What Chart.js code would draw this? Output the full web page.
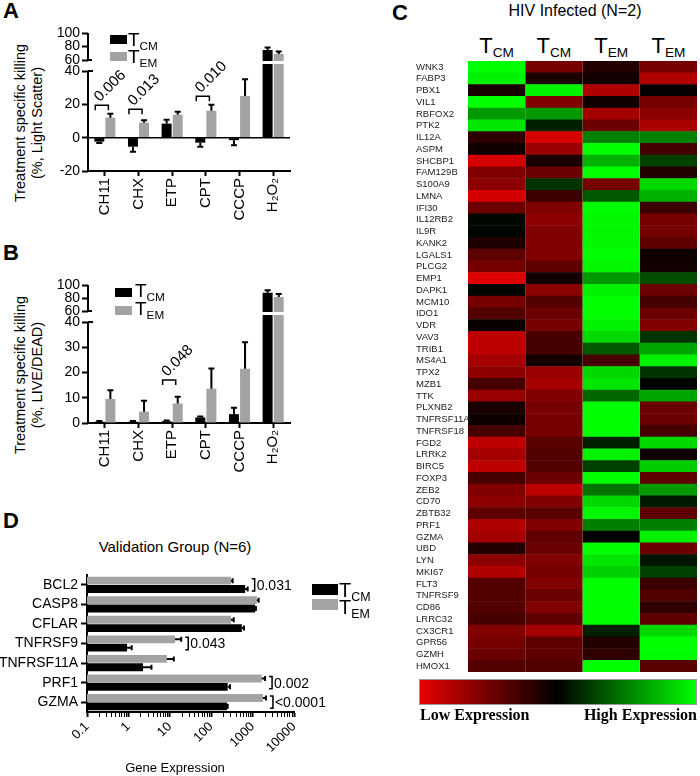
<!DOCTYPE html>
<html>
<head>
<meta charset="utf-8">
<title>Figure</title>
<script src="https://cdn.jsdelivr.net/npm/chart.js@4.4.1/dist/chart.umd.min.js"></script>
<style>
  body { margin: 0; width: 700px; height: 776px; position: relative; overflow: hidden; background: #fff;
         font-family: "Liberation Sans", Arial, sans-serif; color: #000; }
  canvas { position: absolute; }
  .txt { position: absolute; white-space: nowrap; line-height: 1; }
  .letra { font-size: 22px; font-weight: bold; }
  .ytit { position: absolute; white-space: nowrap; font-size: 14.5px; line-height: 17px; text-align: center;
          transform: translate(-50%, -50%) rotate(-90deg); }
  .box { position: absolute; }
  .txt sub { font-size: 0.62em; vertical-align: -0.3em; line-height: 0; }
  .center { transform: translateX(-50%); }
  .colorbar { position: absolute; left: 419px; top: 679px; width: 276px; height: 24px; border: 1px solid #999;
              background: linear-gradient(to right, #e60000, #000 50%, #00ff00); }
  .expr { position: absolute; top: 707px; font: bold 16px "Liberation Serif", "Times New Roman", serif; line-height: 1; white-space: nowrap; }
</style>
</head>
<body>

<!-- panel A -->
<div class="txt letra" style="left:3px; top:0px;">A</div>
<div class="ytit" style="left:29px; top:123px;">Treatment specific killing<br>(%, Light Scatter)</div>
<canvas id="grafico-a" width="300" height="240" style="left:0; top:0;"></canvas>
<div class="box" style="left:110px; top:35px; width:17px; height:9px; background:#000;"></div>
<div class="box" style="left:110px; top:52px; width:17px; height:9px; background:#a3a3a3;"></div>
<div class="txt" style="left:128px; top:30px; font-size:19px;">T<sub>CM</sub></div>
<div class="txt" style="left:128px; top:47px; font-size:19px;">T<sub>EM</sub></div>

<!-- panel B -->
<div class="txt letra" style="left:3px; top:242px;">B</div>
<div class="ytit" style="left:29px; top:375px;">Treatment specific killing<br>(%, LIVE/DEAD)</div>
<canvas id="grafico-b" width="300" height="240" style="left:0; top:250px;"></canvas>
<div class="box" style="left:115px; top:288px; width:17px; height:9px; background:#000;"></div>
<div class="box" style="left:115px; top:306px; width:17px; height:9px; background:#a3a3a3;"></div>
<div class="txt" style="left:135px; top:281px; font-size:19px;">T<sub>CM</sub></div>
<div class="txt" style="left:135px; top:299px; font-size:19px;">T<sub>EM</sub></div>

<!-- panel C -->
<div class="txt letra" style="left:392px; top:2px;">C</div>
<div class="txt center" style="left:575px; top:3px; font-size:16px;">HIV Infected (N=2)</div>
<div id="cabecalhos"></div>
<canvas id="grafico-c" width="286" height="625" style="left:414px; top:55px;"></canvas>
<div class="colorbar"></div>
<div class="expr" style="left:420px;">Low Expression</div>
<div class="expr" style="right:3px;">High Expression</div>

<!-- panel D -->
<div class="txt letra" style="left:3px; top:510px;">D</div>
<div class="txt center" style="left:175px; top:539px; font-size:15px;">Validation Group (N=6)</div>
<canvas id="grafico-d" width="360" height="246" style="left:0; top:530px;"></canvas>
<div class="txt center" style="left:175px; top:761px; font-size:13px;">Gene Expression</div>
<div class="box" style="left:312px; top:584px; width:26px; height:11px; background:#000;"></div>
<div class="box" style="left:312px; top:599px; width:26px; height:11px; background:#a3a3a3;"></div>
<div class="txt" style="left:339px; top:580px; font-size:20px;">T<sub>CM</sub></div>
<div class="txt" style="left:339px; top:597px; font-size:20px;">T<sub>EM</sub></div>

<script>
Chart.defaults.font.family = '"Liberation Sans", Arial, sans-serif';
Chart.defaults.color = '#000';

// A & B: treatments
const treatments = ['CH11', 'CHX', 'ETP', 'CPT', 'CCCP', 'H₂O₂'];

// A: light scatter (%)
const lsTcm = [-2.4, -5.4, 8.4, -3, -1.5, 75];
const lsTcmErr = [0.8, 3, 2.4, 2.5, 3, 3.5];
const lsTem = [12, 9, 13.8, 16.2, 25, 69];
const lsTemErr = [2.4, 1.4, 1.8, 3.6, 10, 3.5];
const lsP = ['0.006', '0.013', null, '0.010', null, null];
const lsTicks = [100, 80, 60, 40, 20, 0, -20];

// B: LIVE/DEAD (%)
const ldTcm = [0.5, 0.5, 0.7, 2.2, 3.5, 88];
const ldTcmErr = [0.3, 0.3, 0.3, 0.4, 2.5, 4];
const ldTem = [9.5, 4.5, 7.7, 13.6, 21.5, 81.5];
const ldTemErr = [3.5, 4.3, 2.7, 8, 10.5, 4.5];
const ldP = [null, null, '0.048', null, null, null];
const ldTicks = [100, 80, 60, 40, 30, 20, 10, 0];

// C: heatmap, HIV infected
const heatHeaders = ['CM', 'CM', 'EM', 'EM'];
const genes = ['WNK3', 'FABP3', 'PBX1', 'VIL1', 'RBFOX2', 'PTK2', 'IL12A', 'ASPM', 'SHCBP1', 'FAM129B',
  'S100A9', 'LMNA', 'IFI30', 'IL12RB2', 'IL9R', 'KANK2', 'LGALS1', 'PLCG2', 'EMP1', 'DAPK1',
  'MCM10', 'IDO1', 'VDR', 'VAV3', 'TRIB1', 'MS4A1', 'TPX2', 'MZB1', 'TTK', 'PLXNB2',
  'TNFRSF11A', 'TNFRSF18', 'FGD2', 'LRRK2', 'BIRC5', 'FOXP3', 'ZEB2', 'CD70', 'ZBTB32', 'PRF1',
  'GZMA', 'UBD', 'LYN', 'MKI67', 'FLT3', 'TNFRSF9', 'CD86', 'LRRC32', 'CX3CR1', 'GPR56',
  'GZMH', 'HMOX1'];
const heatCm1 = [1, .95, -.1, 1, .6, .9, -.2, -.07, -.9, -.55,
  -.6, -.9, -.45, .03, .02, -.12, -.4, -.5, -.95, .02,
  -.5, -.35, -.04, -.8, -.8, -.7, -.6, -.3, -.65, -.1,
  -.06, -.3, -.8, -.7, -.8, -.3, -.55, -.6, -.4, -.75,
  -.7, -.15, -.6, -.75, -.35, -.35, -.35, -.3, -.55, -.5,
  -.45, -.35];
const heatCm2 = [-.5, -.12, .95, -.55, .6, .12, -.9, -.65, -.1, -.45,
  .2, -.25, -.55, -.6, -.55, -.55, -.55, -.4, -.08, -.6,
  -.35, -.45, -.5, -.3, -.3, -.08, -.65, -.7, -.55, -.5,
  -.5, -.5, -.38, -.35, -.35, -.45, -.8, -.55, -.38, -.55,
  -.4, -.45, -.55, -.5, -.55, -.45, -.55, -.4, -.7, -.4,
  -.4, -.35];
const heatEm1 = [-.15, -.08, -.75, -.07, -.7, -.45, .5, 1, .7, 1,
  -.5, .35, 1, .97, .97, .97, 1, .97, .6, .95,
  1, 1, .95, .85, .35, -.3, .85, .9, .4, 1,
  1, 1, .12, .95, .25, 1, .45, .85, .97, .5,
  0, 1, .9, .82, 1, 1, 1, 1, .12, -.15,
  -.2, 1];
const heatEm2 = [-.5, -.75, -.03, -.5, -.6, -.72, .5, -.3, .25, -.15,
  .85, .7, -.25, -.5, -.5, -.4, -.06, -.08, .3, -.45,
  -.3, -.45, -.55, .2, .65, .95, .2, .02, .65, -.45,
  -.45, -.3, .85, -.06, .8, -.4, .6, .1, -.4, .5,
  .95, -.45, .08, .25, -.25, -.35, -.2, -.4, .85, 1,
  1, -.38];

// D: validation group, gene expression
const vgGenes = ['BCL2', 'CASP8', 'CFLAR', 'TNFRSF9', 'TNFRSF11A', 'PRF1', 'GZMA'];
const vgTem = [300, 1260, 300, 13.4, 8.5, 1660, 1780];
const vgTemErr = [30, 140, 50, 5.5, 4, 340, 320];
const vgTcm = [660, 1150, 550, 0.93, 2.25, 250, 240];
const vgTcmErr = [100, 50, 70, 0.27, 1.35, 35, 10];
const vgP = ['0.031', null, null, '0.043', null, '0.002', '<0.0001'];

const GRAY = '#a3a3a3';

// values above 40 go into a short segment that restarts at 60
function brokenAxis(gap, upper) {
  const T = v => (v <= 40 ? v : 40 + gap + (v - 60) * upper / 40);
  const inv = t => (t <= 40 ? t : 60 + (t - 40 - gap) * 40 / upper);
  return { T, inv };
}

function killingChart(id, d) {
  const { T, inv } = brokenAxis(d.gap, d.upper);
  const raw = [d.tcm, d.tem], errs = [d.tcmErr, d.temErr];

  const extras = {
    id: 'extras',
    afterDatasetsDraw(chart) {
      const { ctx, chartArea: a, scales: { x, y } } = chart;
      const y60 = y.getPixelForValue(T(60)), y40 = y.getPixelForValue(T(40));
      ctx.save();
      // gap cut through the tall bars
      ctx.fillStyle = '#fff';
      ctx.fillRect(a.left + 1, y60 + 1, a.right - a.left, 3);
      // error bars
      ctx.strokeStyle = '#000';
      ctx.lineWidth = 2;
      raw.forEach((vals, k) => {
        chart.getDatasetMeta(k).data.forEach((bar, i) => {
          const v = vals[i], e = errs[k][i];
          const tip = v >= 0 ? v + e : v - e;
          const y0 = y.getPixelForValue(T(v)), y1 = y.getPixelForValue(T(tip));
          ctx.beginPath();
          ctx.moveTo(bar.x, y0); ctx.lineTo(bar.x, y1);
          ctx.moveTo(bar.x - 3, y1); ctx.lineTo(bar.x + 3, y1);
          ctx.stroke();
        });
      });
      // zero line
      if (d.min < 0) {
        const y0 = y.getPixelForValue(0);
        ctx.lineWidth = 1.5;
        ctx.beginPath(); ctx.moveTo(a.left, y0); ctx.lineTo(a.right, y0); ctx.stroke();
      }
      // broken y axis
      ctx.lineWidth = 2;
      ctx.beginPath();
      ctx.moveTo(a.left, a.bottom); ctx.lineTo(a.left, y40);
      ctx.moveTo(a.left, y60); ctx.lineTo(a.left, a.top);
      ctx.moveTo(a.left, y40); ctx.lineTo(a.left + 5, y40);
      ctx.moveTo(a.left, y60); ctx.lineTo(a.left + 4, y60);
      ctx.stroke();
      // p-value brackets
      ctx.lineWidth = 1.5;
      ctx.fillStyle = '#000';
      ctx.font = '15px "Liberation Sans", Arial, sans-serif';
      d.pvals.forEach((p, i) => {
        if (!p) return;
        const top = Math.max(d.tcm[i] + d.tcmErr[i], d.tem[i] + d.temErr[i]);
        const yb = y.getPixelForValue(T(Math.max(top + 5, 17)));
        const xa = chart.getDatasetMeta(0).data[i].x - 4;
        const xb = chart.getDatasetMeta(1).data[i].x - 2;
        ctx.beginPath();
        ctx.moveTo(xa, yb + 5); ctx.lineTo(xa, yb); ctx.lineTo(xb, yb); ctx.lineTo(xb, yb + 5);
        ctx.stroke();
        ctx.save();
        ctx.translate((xa + xb) / 2 - 2, yb - 3);
        ctx.rotate(-Math.PI / 4);
        ctx.textAlign = 'left';
        ctx.textBaseline = 'alphabetic';
        ctx.fillText(p, 0, 0);
        ctx.restore();
      });
      ctx.restore();
    }
  };

  return new Chart(document.getElementById(id), {
    type: 'bar',
    data: {
      labels: treatments,
      datasets: [
        { data: d.tcm.map(T), backgroundColor: '#000' },
        { data: d.tem.map(T), backgroundColor: GRAY }
      ]
    },
    options: {
      responsive: false,
      animation: false,
      devicePixelRatio: 1,
      layout: { padding: { top: d.padTop, right: 10, left: 0, bottom: 0 } },
      datasets: { bar: { categoryPercentage: 0.66, barPercentage: 0.9, borderWidth: 0 } },
      plugins: { legend: { display: false }, tooltip: { enabled: false } },
      scales: {
        x: {
          ticks: { font: { size: 15 }, minRotation: 90, maxRotation: 90, autoSkip: false, padding: 2 },
          grid: { drawOnChartArea: false, offset: false, color: '#000', tickLength: 5, tickWidth: 2 },
          border: { color: '#000', width: 2 },
          afterFit: s => { s.height = d.xHeight; }
        },
        y: {
          min: d.min,
          max: T(100),
          afterBuildTicks: s => { s.ticks = d.ticks.map(v => ({ value: T(v) })); },
          ticks: { font: { size: 14 }, padding: 2, autoSkip: false, callback: v => String(Math.round(inv(v))) },
          grid: { drawOnChartArea: false, color: '#000', tickLength: 6, tickWidth: 2 },
          border: { display: false },
          afterFit: s => { s.width = 88; }
        }
      }
    },
    plugins: [extras]
  });
}

function heatColor(v) {
  return v < 0 ? `rgb(${Math.round(-v * 235)},0,0)` : `rgb(0,${Math.round(v * 255)},0)`;
}

function heatmapChart() {
  const cols = [heatCm1, heatCm2, heatEm1, heatEm2];
  return new Chart(document.getElementById('grafico-c'), {
    type: 'bar',
    data: {
      labels: genes,
      datasets: cols.map((col, c) => ({
        data: genes.map(() => [c, c + 1]),
        backgroundColor: col.map(heatColor),
        borderWidth: 0,
        grouped: false,
        categoryPercentage: 1,
        barPercentage: 1.04
      }))
    },
    options: {
      indexAxis: 'y',
      responsive: false,
      animation: false,
      devicePixelRatio: 1,
      layout: { padding: { top: 6, right: 3, left: 2, bottom: 8 } },
      plugins: { legend: { display: false }, tooltip: { enabled: false } },
      scales: {
        x: { type: 'linear', min: 0, max: 4, display: false },
        y: {
          ticks: {
            autoSkip: false, crossAlign: 'far', color: '#222', padding: 0,
            font: { size: 9.5, family: '"Liberation Sans Narrow", "Arial Narrow", "Liberation Sans", sans-serif' }
          },
          grid: { display: false },
          border: { display: false },
          afterFit: s => { s.width = 52; }
        }
      }
    }
  });
}

function geneChart() {
  const extras = {
    id: 'geneExtras',
    afterDatasetsDraw(chart) {
      const { ctx, scales: { x } } = chart;
      const vals = [vgTem, vgTcm], errs = [vgTemErr, vgTcmErr];
      ctx.save();
      ctx.strokeStyle = '#000';
      ctx.lineWidth = 2;
      vals.forEach((arr, k) => {
        chart.getDatasetMeta(k).data.forEach((bar, i) => {
          const x0 = x.getPixelForValue(arr[i]), x1 = x.getPixelForValue(arr[i] + errs[k][i]);
          ctx.beginPath();
          ctx.moveTo(x0, bar.y); ctx.lineTo(x1, bar.y);
          ctx.moveTo(x1, bar.y - 2.5); ctx.lineTo(x1, bar.y + 2.5);
          ctx.stroke();
        });
      });
      // p-value brackets
      ctx.lineWidth = 1.5;
      ctx.fillStyle = '#000';
      ctx.font = '14px "Liberation Sans", Arial, sans-serif';
      ctx.textBaseline = 'middle';
      vgP.forEach((p, i) => {
        if (!p) return;
        const top = chart.getDatasetMeta(0).data[i], bot = chart.getDatasetMeta(1).data[i];
        const xr = Math.max(x.getPixelForValue(vgTem[i] + vgTemErr[i]),
                            x.getPixelForValue(vgTcm[i] + vgTcmErr[i])) + 7;
        const y0 = top.y - 2, y1 = bot.y + 2;
        ctx.beginPath();
        ctx.moveTo(xr - 3, y0); ctx.lineTo(xr, y0); ctx.lineTo(xr, y1); ctx.lineTo(xr - 3, y1);
        ctx.stroke();
        ctx.fillText(p, xr + 2, (y0 + y1) / 2 + 1);
      });
      ctx.restore();
    }
  };

  const logTicks = [];
  for (let d = -1; d <= 3; d++) {
    for (let m = 1; m <= 9; m++) logTicks.push(parseFloat(m + 'e' + d));
  }
  logTicks.push(10000);
  const isMajor = v => Math.abs(Math.log10(v) - Math.round(Math.log10(v))) < 1e-9;

  return new Chart(document.getElementById('grafico-d'), {
    type: 'bar',
    data: {
      labels: vgGenes,
      datasets: [
        { data: vgTem, backgroundColor: GRAY },
        { data: vgTcm, backgroundColor: '#000' }
      ]
    },
    options: {
      indexAxis: 'y',
      responsive: false,
      animation: false,
      devicePixelRatio: 1,
      layout: { padding: { top: 45, right: 66, left: 0, bottom: 0 } },
      datasets: { bar: { categoryPercentage: 0.85, barPercentage: 0.95, borderWidth: 0 } },
      plugins: { legend: { display: false }, tooltip: { enabled: false } },
      scales: {
        x: {
          type: 'logarithmic',
          min: 0.1,
          max: 10000,
          afterBuildTicks: s => { s.ticks = logTicks.map(v => ({ value: v })); },
          ticks: {
            autoSkip: false, minRotation: 45, maxRotation: 45, padding: 2, font: { size: 13 },
            callback: v => (isMajor(v) ? String(v) : '')
          },
          grid: {
            drawOnChartArea: false, color: '#000', tickLength: 5,
            tickWidth: c => (c.tick && isMajor(c.tick.value) ? 2 : 1)
          },
          border: { color: '#000', width: 2 },
          afterFit: s => { s.height = 64; }
        },
        y: {
          ticks: { font: { size: 14 }, padding: 3, autoSkip: false },
          grid: { drawOnChartArea: false, offset: false, color: '#000', tickLength: 6, tickWidth: 2 },
          border: { color: '#000', width: 2 },
          afterFit: s => { s.width = 87; }
        }
      }
    },
    plugins: [extras]
  });
}

document.addEventListener('DOMContentLoaded', function() {
  // heatmap column headers
  const cab = document.getElementById('cabecalhos');
  heatHeaders.forEach((h, i) => {
    const el = document.createElement('div');
    el.className = 'txt center';
    el.style.left = (468 + 57.25 * (i + 0.5)) + 'px';
    el.style.top = '35px';
    el.style.fontSize = '22px';
    el.innerHTML = 'T<sub>' + h + '</sub>';
    cab.appendChild(el);
  });

  killingChart('grafico-a', {
    tcm: lsTcm, tcmErr: lsTcmErr, tem: lsTem, temErr: lsTemErr, pvals: lsP, ticks: lsTicks,
    min: -20, gap: 6.6, upper: 16.2, padTop: 33, xHeight: 69
  });
  killingChart('grafico-b', {
    tcm: ldTcm, tcmErr: ldTcmErr, tem: ldTem, temErr: ldTemErr, pvals: ldP, ticks: ldTicks,
    min: 0, gap: 4.36, upper: 10.3, padTop: 35, xHeight: 67
  });
  heatmapChart();
  geneChart();
});
</script>
</body>
</html>
